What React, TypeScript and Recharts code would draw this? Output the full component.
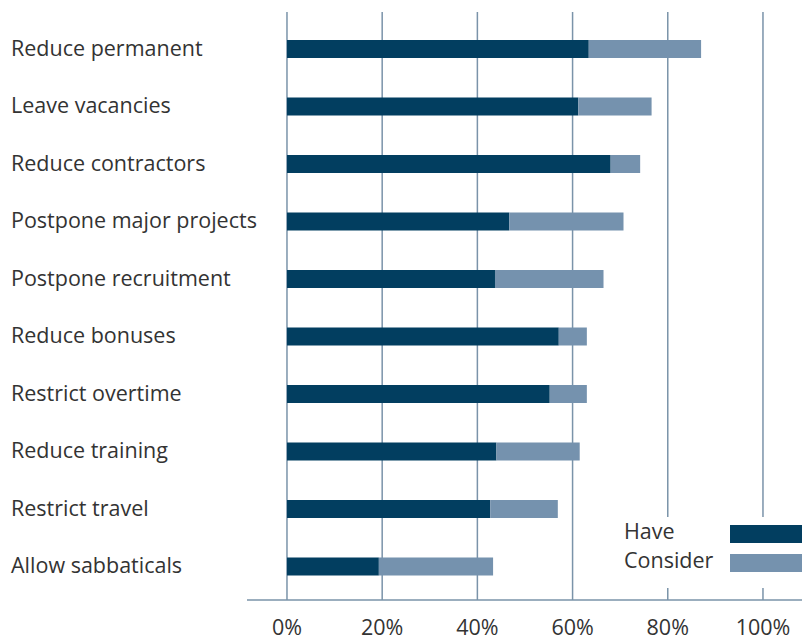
import React from 'react'
import { BarChart, Bar, XAxis, YAxis, CartesianGrid } from 'recharts'

// measures, top to bottom
const categories = [
  'Reduce permanent',
  'Leave vacancies',
  'Reduce contractors',
  'Postpone major projects',
  'Postpone recruitment',
  'Reduce bonuses',
  'Restrict overtime',
  'Reduce training',
  'Restrict travel',
  'Allow sabbaticals',
]

// share of organisations (%)
const have = [63.4, 61.2, 68.0, 46.7, 43.7, 57.1, 55.2, 44.0, 42.7, 19.3]
const consider = [23.6, 15.4, 6.2, 24.0, 22.8, 5.9, 7.8, 17.5, 14.2, 24.0]

const xTicks = [0, 20, 40, 60, 80, 100]

const data = categories.map((name, i) => ({
  name,
  Have: have[i],
  Consider: consider[i],
}))

const X_MIN = -8.4
const X_MAX = 108.2
const Y_AXIS_W = 247

const FONT = '"Open Sans", "Noto Sans", sans-serif'
const TEXT = '#333333'
const GRID = '#7a93a9'
const DARK = '#023e60'
const LIGHT = '#7592ae'

const series = [
  { key: 'Have', color: DARK },
  { key: 'Consider', color: LIGHT },
]

const CategoryTick = (props: any) => {
  const { y, payload } = props
  return (
    <text x={11} y={y + 7} textAnchor="start" fontSize={21.5} fill={TEXT} fontFamily={FONT}>
      {payload.value}
    </text>
  )
}

// grid lines only at the labelled ticks, not at the plot edge
const gridX = (args: any) => {
  const left = args?.offset?.left ?? Y_AXIS_W
  const w = args?.offset?.width ?? 802 - Y_AXIS_W
  return xTicks.map((t) => left + ((t - X_MIN) / (X_MAX - X_MIN)) * w)
}

// legend sits over the grid lines on a white box, bottom right
const LegendBox = () => (
  <div
    style={{
      position: 'absolute',
      left: 615,
      top: 517,
      width: 187,
      height: 71,
      background: '#fff',
      fontFamily: FONT,
    }}
  >
    {series.map((s, i) => (
      <div key={s.key} style={{ position: 'absolute', left: 0, top: 1 + i * 29, height: 28, width: 187 }}>
        <span style={{ position: 'absolute', left: 9, top: -1, fontSize: 21.5, color: TEXT, lineHeight: '28px' }}>
          {s.key}
        </span>
        <div style={{ position: 'absolute', left: 115, top: 7, width: 72, height: 18, background: s.color }} />
      </div>
    ))}
  </div>
)

export default function App() {
  return (
    <div style={{ position: 'absolute', left: 0, top: 0, width: 802, height: 641, overflow: 'hidden', background: '#fff' }}>
      <BarChart
        width={802}
        height={641}
        data={data}
        layout="vertical"
        margin={{ top: 12, right: 0, bottom: 11, left: 0 }}
      >
        <CartesianGrid
          horizontal={false}
          stroke={GRID}
          strokeWidth={1.5}
          verticalCoordinatesGenerator={gridX}
        />
        <XAxis
          type="number"
          domain={[X_MIN, X_MAX]}
          ticks={xTicks}
          allowDataOverflow
          height={30}
          tickFormatter={(v) => `${v}%`}
          tick={{ fontSize: 21.5, fill: TEXT, fontFamily: FONT }}
          tickLine={false}
          tickMargin={14}
          axisLine={{ stroke: GRID, strokeWidth: 1.5 }}
        />
        <YAxis
          type="category"
          dataKey="name"
          width={Y_AXIS_W}
          tick={<CategoryTick />}
          tickLine={false}
          axisLine={false}
          padding={{ top: 8, bottom: 5 }}
        />
        {series.map((s) => (
          <Bar key={s.key} dataKey={s.key} stackId="a" fill={s.color} barSize={18} isAnimationActive={false} />
        ))}
      </BarChart>
      <LegendBox />
    </div>
  )
}
